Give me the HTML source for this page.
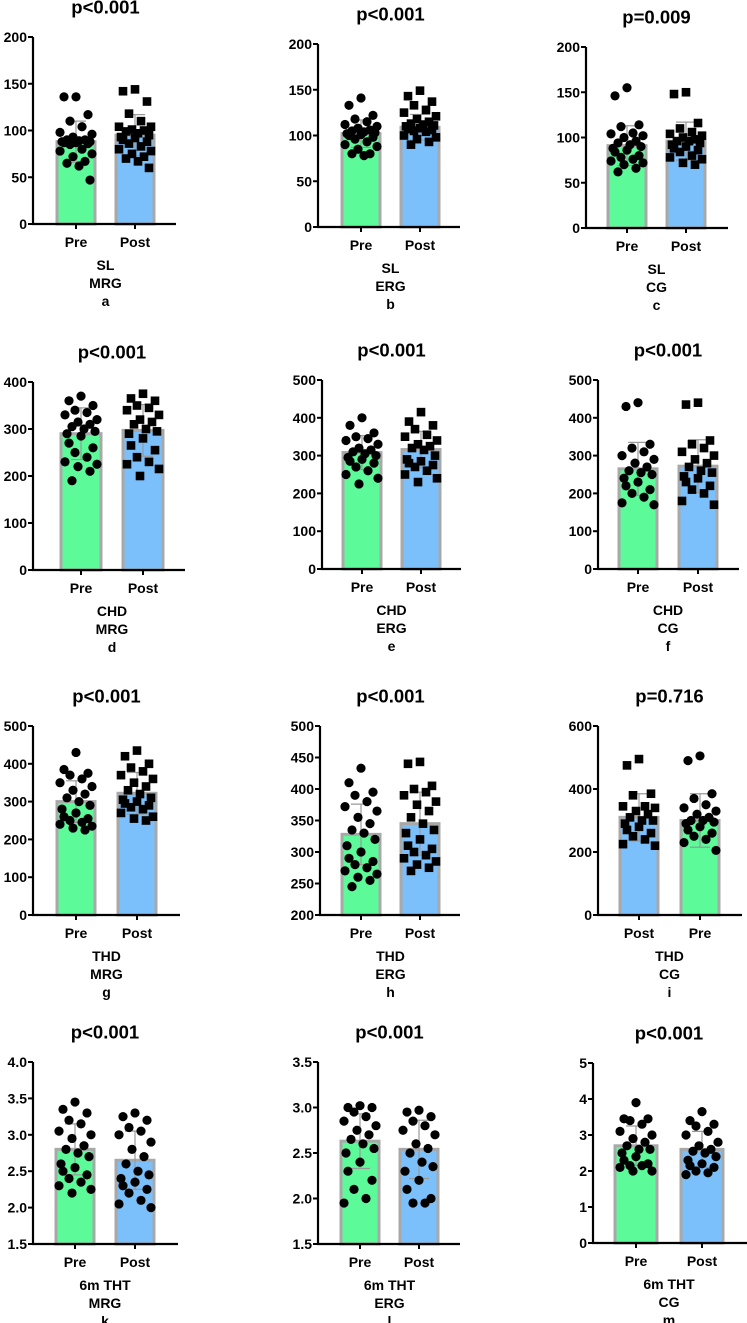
<!DOCTYPE html>
<html><head><meta charset="utf-8"><style>
html,body{margin:0;padding:0;background:#fff;}
svg{display:block;font-family:"Liberation Sans",Arial,sans-serif;font-weight:bold;}
</style></head><body>
<svg id="fig" width="747" height="1323" viewBox="0 0 747 1323"></svg>
<script>
const aPre=[136,136,117,110,104,98,96,93,90,90,89,88,88,87,87,86,85,80,78,75,72,67,65,62,47];
const aPost=[144,142,131,118,110,104,104,101,100,99,97,95,93,92,90,88,86,83,80,78,75,72,70,67,60];
const bPre=[141,133,122,118,115,112,110,108,106,105,104,103,102,101,100,98,96,93,90,88,85,80,80,78];
const bPost=[149,143,137,133,128,125,121,118,115,113,112,111,110,108,107,106,105,104,100,98,96,93,90];
const cPre=[155,146,114,112,105,104,102,100,96,94,92,90,88,86,84,80,78,76,74,72,70,66,62];
const cPost=[150,148,116,110,106,104,102,100,98,96,96,94,92,90,88,86,84,80,78,76,72,70];
const dPre=[370,360,350,340,335,330,320,315,310,305,300,295,290,285,270,260,250,240,230,225,220,210,190];
const dPost=[375,365,360,350,345,340,330,320,315,310,300,295,290,280,265,255,240,230,225,215,200];
const ePre=[400,380,360,350,345,340,330,320,315,310,305,300,295,290,285,280,270,260,250,240,225];
const ePost=[415,390,380,370,355,350,340,330,325,320,315,300,290,285,280,275,270,260,250,240,230];
const fPre=[440,430,330,320,310,300,290,280,270,260,255,250,240,230,220,210,200,190,175,170];
const fPost=[440,435,340,330,320,310,300,290,280,270,260,255,245,240,230,220,210,200,180,170];
const gPre=[430,385,375,370,360,350,340,330,320,310,300,290,280,270,260,255,250,245,240,235,230,225];
const gPost=[435,420,400,390,380,370,360,350,340,330,320,310,305,300,295,290,285,280,270,260,255,250];
const hPre=[433,410,395,390,380,372,365,355,345,335,330,320,310,300,290,285,280,275,270,265,260,255,245];
const hPost=[443,440,405,400,395,390,380,375,365,355,345,335,330,320,310,305,300,295,290,285,280,275,270];
const iPost=[495,475,385,380,345,345,340,330,320,310,300,300,290,280,270,260,250,240,225,220];
const iPre=[505,490,385,370,350,340,330,320,310,300,300,295,290,280,270,260,250,240,230,205];
const kPre=[3.45,3.35,3.3,3.2,3.15,3.05,3.0,2.95,2.85,2.8,2.75,2.7,2.6,2.55,2.5,2.45,2.4,2.35,2.3,2.25,2.2];
const kPost=[3.3,3.25,3.2,3.1,3.05,3.0,2.9,2.8,2.7,2.6,2.5,2.45,2.4,2.35,2.3,2.25,2.2,2.1,2.05,2.0];
const lPre=[3.02,3.0,3.0,2.95,2.9,2.85,2.8,2.75,2.7,2.65,2.6,2.55,2.5,2.4,2.3,2.2,2.1,2.0,1.95];
const lPost=[2.97,2.95,2.9,2.85,2.8,2.75,2.7,2.6,2.55,2.5,2.4,2.35,2.3,2.2,2.1,2.0,1.95,1.95];
const mPre=[3.9,3.45,3.45,3.4,3.3,3.1,3.0,2.9,2.8,2.7,2.6,2.6,2.5,2.4,2.3,2.2,2.15,2.15,2.1,2.0,2.0];
const mPost=[3.65,3.4,3.3,3.25,3.1,3.0,2.8,2.7,2.6,2.55,2.5,2.4,2.3,2.2,2.15,2.1,2.0,1.95,1.9];
const means={a:[88,95],b:[102,109],c:[91,96],d:[290,297],e:[308,316],f:[265,272],g:[300,322],h:[328,345],i:[310,300],k:[2.8,2.65],l:[2.63,2.54],m:[2.7,2.6]};
const sds={a:[22,22],b:[15,14],c:[22,21],d:[55,55],e:[45,48],f:[70,70],g:[55,55],h:[48,50],i:[75,85],k:[0.35,0.4],l:[0.3,0.32],m:[0.55,0.5]};
const tickA=[0,50,100,150,200], tickD=[0,100,200,300,400], tickE=[0,100,200,300,400,500];
const tickH=[200,250,300,350,400,450,500], tickI=[0,200,400,600];
const tickK=["1.5","2.0","2.5","3.0","3.5","4.0"], tickL=["1.5","2.0","2.5","3.0","3.5"], tickM=[0,1,2,3,4,5];
const GREEN="#5cfa99", BLUE="#7bc0fa";
const panels=[
 {id:'a',ax:33,c:[76,135],end:176,hw:19,top:37,bot:224,min:0,max:200,ticks:tickA,p:'p<0.001',g:[aPre,aPost],l:['Pre','Post'],t:['SL','MRG','a'],mk:['c','s'],col:[GREEN,BLUE]},
 {id:'b',ax:318,c:[361,420],end:460,hw:19,top:44,bot:227,min:0,max:200,ticks:tickA,p:'p<0.001',g:[bPre,bPost],l:['Pre','Post'],t:['SL','ERG','b'],mk:['c','s'],col:[GREEN,BLUE]},
 {id:'c',ax:586,c:[627,686],end:728,hw:19,top:47,bot:228,min:0,max:200,ticks:tickA,p:'p=0.009',g:[cPre,cPost],l:['Pre','Post'],t:['SL','CG','c'],mk:['c','s'],col:[GREEN,BLUE]},
 {id:'d',ax:33,c:[81,143],end:185,hw:20,top:382,bot:570,min:0,max:400,ticks:tickD,p:'p<0.001',g:[dPre,dPost],l:['Pre','Post'],t:['CHD','MRG','d'],mk:['c','s'],col:[GREEN,BLUE]},
 {id:'e',ax:322,c:[362,421],end:461,hw:19,top:380,bot:569,min:0,max:500,ticks:tickE,p:'p<0.001',g:[ePre,ePost],l:['Pre','Post'],t:['CHD','ERG','e'],mk:['c','s'],col:[GREEN,BLUE]},
 {id:'f',ax:598,c:[638,698],end:739,hw:19,top:380,bot:569,min:0,max:500,ticks:tickE,p:'p<0.001',g:[fPre,fPost],l:['Pre','Post'],t:['CHD','CG','f'],mk:['c','s'],col:[GREEN,BLUE]},
 {id:'g',ax:33,c:[76,137],end:180,hw:19,top:726,bot:915,min:0,max:500,ticks:tickE,p:'p<0.001',g:[gPre,gPost],l:['Pre','Post'],t:['THD','MRG','g'],mk:['c','s'],col:[GREEN,BLUE]},
 {id:'h',ax:320,c:[361,420],end:460,hw:19,top:726,bot:915,min:200,max:500,ticks:tickH,p:'p<0.001',g:[hPre,hPost],l:['Pre','Post'],t:['THD','ERG','h'],mk:['c','s'],col:[GREEN,BLUE]},
 {id:'i',ax:598,c:[639,700],end:742,hw:19,top:726,bot:915,min:0,max:600,ticks:tickI,p:'p=0.716',g:[iPost,iPre],l:['Post','Pre'],t:['THD','CG','i'],mk:['s','c'],col:[BLUE,GREEN]},
 {id:'k',ax:33,c:[75,135],end:178,hw:19,top:1062,bot:1244,min:1.5,max:4.0,ticks:tickK,p:'p<0.001',g:[kPre,kPost],l:['Pre','Post'],t:['6m THT','MRG','k'],mk:['c','c'],col:[GREEN,BLUE]},
 {id:'l',ax:318,c:[360,419],end:460,hw:19,top:1062,bot:1244,min:1.5,max:3.5,ticks:tickL,p:'p<0.001',g:[lPre,lPost],l:['Pre','Post'],t:['6m THT','ERG','l'],mk:['c','c'],col:[GREEN,BLUE]},
 {id:'m',ax:593,c:[636,702],end:747,hw:21,top:1063,bot:1243,min:0,max:5,ticks:tickM,p:'p<0.001',g:[mPre,mPost],l:['Pre','Post'],t:['6m THT','CG','m'],mk:['c','c'],col:[GREEN,BLUE]}
];
const NS="http://www.w3.org/2000/svg", svg=document.getElementById('fig');
function el(tag,attrs,parent){const e=document.createElementNS(NS,tag);for(const k in attrs)e.setAttribute(k,attrs[k]);(parent||svg).appendChild(e);return e;}
function txt(s,attrs,parent){const e=el('text',attrs,parent);e.textContent=s;return e;}
const jit=[0,-12,12,-6,6,-16,16,-3,9,-9,3,14,-14];
panels.forEach(P=>{
 const G=el('g',{});
 
 
 const y=v=>P.bot-(v-P.min)/(P.max-P.min)*(P.bot-P.top);
 const cx=P.c, mid=(P.c[0]+P.c[1])/2;
 const t=txt(P.p,{x:mid,y:P.top-30,'text-anchor':'middle','dominant-baseline':'central','font-size':18.5},G);
 
 
 for(let j=0;j<2;j++){
  const m=means[P.id][j], s=sds[P.id][j];
  const bar=el('rect',{x:cx[j]-P.hw,y:y(m),width:2*P.hw,height:P.bot-y(m),fill:P.col[j],stroke:'#a8a8a8','stroke-width':3},G);
  
  
  const eb=el('path',{d:`M${cx[j]} ${y(m+s)}V${y(m-s)}M${cx[j]-10} ${y(m+s)}H${cx[j]+10}M${cx[j]-10} ${y(m-s)}H${cx[j]+10}`,stroke:'#999','stroke-width':1.2,fill:'none'},G);
  
  
  P.g[j].forEach((v,i)=>{
   const px=cx[j]+jit[i%jit.length], py=y(v);
   let mk;
   if(P.mk[j]==='c') mk=el('circle',{cx:px,cy:py,r:4.6,fill:'#000'},G);
   else mk=el('rect',{x:px-4.3,y:py-4.3,width:8.6,height:8.6,fill:'#000'},G);
   
   
  });
  const xl=txt(P.l[j],{x:cx[j],y:P.bot+18,'text-anchor':'middle','dominant-baseline':'central','font-size':14},G);
  
  
  el('line',{x1:cx[j],y1:P.bot,x2:cx[j],y2:P.bot+5,stroke:'#000','stroke-width':2},G);
 }
 const ax=el('path',{d:`M${P.ax} ${P.top}V${P.bot}H${P.end}`,stroke:'#000','stroke-width':2.2,fill:'none'},G);
 
 
 P.ticks.forEach(tv=>{
  const yy=y(+tv);
  el('line',{x1:P.ax-5,y1:yy,x2:P.ax,y2:yy,stroke:'#000','stroke-width':2},G);
  const tl=txt(String(tv),{x:P.ax-6,y:yy,'text-anchor':'end','dominant-baseline':'central','font-size':14},G);
  
  
 });
 const offs=[41,59,77];
 P.t.forEach((s,i)=>{
  const c=txt(s,{x:mid,y:P.bot+offs[i],'text-anchor':'middle','dominant-baseline':'central','font-size':14},G);
  
  
 });
});
</script>
</body></html>
